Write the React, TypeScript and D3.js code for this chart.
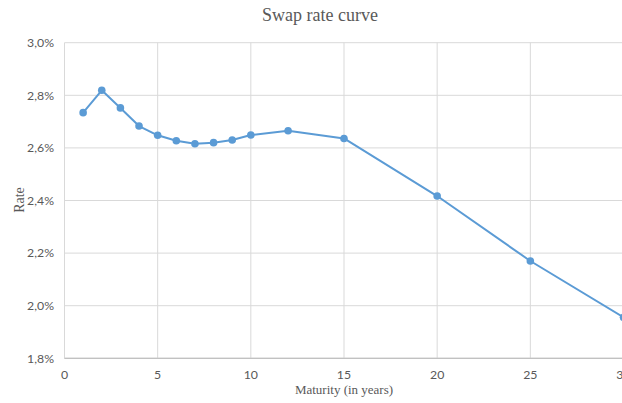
import React from "react";
import * as d3 from "d3";

const maturities = [1, 2, 3, 4, 5, 6, 7, 8, 9, 10, 12, 15, 20, 25, 30];
const rates = [2.734, 2.819, 2.752, 2.683, 2.648, 2.627, 2.616, 2.62, 2.63, 2.649, 2.665, 2.636, 2.417, 2.17, 1.956];
const xTicks = [0, 5, 10, 15, 20, 25, 30];
const yTicks = [1.8, 2.0, 2.2, 2.4, 2.6, 2.8, 3.0];

const W = 622;
const H = 403;

export default function App() {
  const x = d3.scaleLinear().domain([0, 30]).range([64.5, 623.5]);
  const y = d3.scaleLinear().domain([1.8, 3.0]).range([358.3, 42.7]);
  const line = d3
    .line<number>()
    .x((_, i) => x(maturities[i]))
    .y((d) => y(d));
  const fmt = (v: number) => v.toFixed(1).replace(".", ",") + "%";
  const tickFont = "Lato, 'Liberation Sans', sans-serif";
  const serif = "'Liberation Serif', 'Times New Roman', serif";

  return (
    <svg
      width={W}
      height={H}
      style={{ position: "fixed", left: 0, top: 0, background: "#fff" }}
    >
      <rect width={W} height={H} fill="#fff" />
      <text x={320} y={21} textAnchor="middle" fontFamily={serif} fontSize={18} fill="#595959">
        Swap rate curve
      </text>
      {yTicks.map((t) => (
        <g key={"y" + t}>
          <line x1={x(0)} x2={W} y1={y(t)} y2={y(t)} stroke={t === 1.8 ? "#bfbfbf" : "#d9d9d9"} strokeWidth={1} />
          <text x={54} y={y(t) + 4.3} textAnchor="end" fontFamily={tickFont} fontSize={12.3} fill="#595959">
            {fmt(t)}
          </text>
        </g>
      ))}
      {xTicks.map((t) => (
        <g key={"x" + t}>
          <line x1={x(t)} x2={x(t)} y1={y(3.0)} y2={y(1.8)} stroke="#d9d9d9" strokeWidth={1} />
          <text x={x(t)} y={378.5} textAnchor="middle" fontFamily={tickFont} fontSize={12.3} fill="#595959">
            {t}
          </text>
        </g>
      ))}
      <line x1={x(0)} x2={W} y1={y(1.8)} y2={y(1.8)} stroke="#bfbfbf" strokeWidth={1} />
      <path d={line(rates) ?? ""} fill="none" stroke="#5b9bd5" strokeWidth={2} strokeLinejoin="round" />
      {rates.map((r, i) => (
        <circle key={i} cx={x(maturities[i])} cy={y(r)} r={3.8} fill="#5b9bd5" />
      ))}
      <text
        transform={`translate(24, 200) rotate(-90)`}
        textAnchor="middle"
        fontFamily={serif}
        fontSize={14}
        fill="#595959"
      >
        Rate
      </text>
      <text x={344} y={394} textAnchor="middle" fontFamily={serif} fontSize={13} fill="#595959">
        Maturity (in years)
      </text>
    </svg>
  );
}
